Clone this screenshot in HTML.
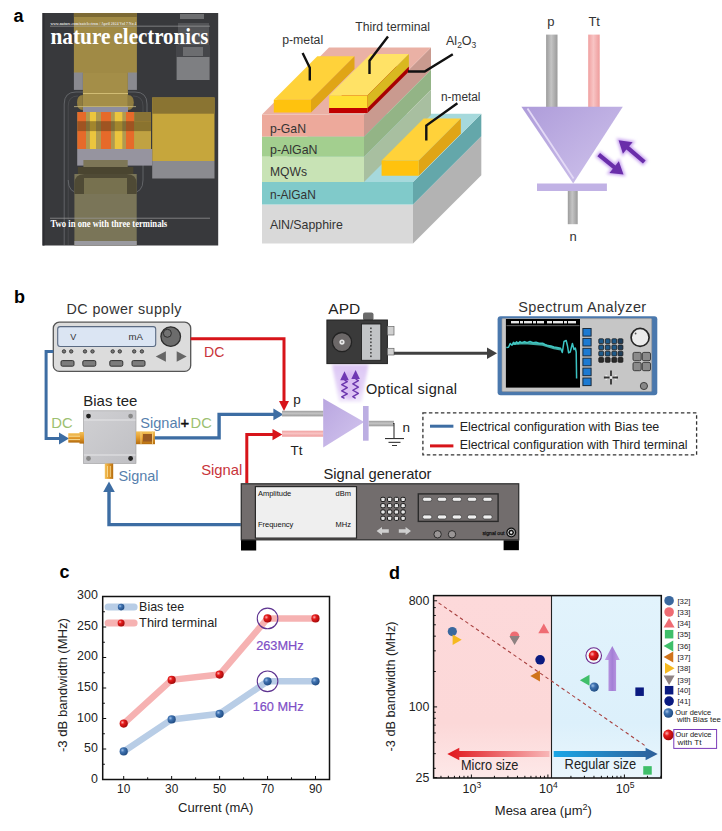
<!DOCTYPE html>
<html><head><meta charset="utf-8"><style>
html,body{margin:0;padding:0;background:#fff;width:722px;height:831px;overflow:hidden}
svg{display:block}
</style></head><body>
<svg width="722" height="831" viewBox="0 0 722 831">
<rect width="722" height="831" fill="#fff"/>
<text x="13.5" y="21.8" font-size="18" fill="#000" text-anchor="start" font-weight="bold" font-family='"Liberation Sans", sans-serif' >a</text>
<text x="14" y="303" font-size="18" fill="#000" text-anchor="start" font-weight="bold" font-family='"Liberation Sans", sans-serif' >b</text>
<text x="59.5" y="578" font-size="18" fill="#000" text-anchor="start" font-weight="bold" font-family='"Liberation Sans", sans-serif' >c</text>
<text x="389" y="578.6" font-size="18" fill="#000" text-anchor="start" font-weight="bold" font-family='"Liberation Sans", sans-serif' >d</text>
<g><rect x="42.5" y="13" width="175.7" height="232.5" fill="#38393c"/><rect x="42.5" y="13" width="2" height="232.5" fill="#2c2d31"/><rect x="180" y="14" width="24" height="5" fill="#6d6e70"/><rect x="178" y="23" width="31" height="22" fill="#535457"/><rect x="176" y="45" width="34" height="12" fill="#45464a"/><rect x="183" y="47" width="20" height="9" fill="#6c6d70"/><rect x="176.6" y="57" width="33" height="23" fill="#7e7f82"/><rect x="73.9" y="13" width="63" height="60" fill="#a08a45"/><rect x="73.9" y="13" width="63" height="4" fill="#7c6a35"/><rect x="82.9" y="73" width="45" height="39" fill="#a48e48"/><rect x="73.9" y="72.5" width="9" height="17.4" fill="#8a8a90"/><rect x="127.9" y="72.5" width="9" height="17.4" fill="#8a8a90"/><path d="M82.9,95 Q77,95 77,102.5 Q77,110 82.9,110 Z" fill="#8f7c40"/><path d="M127.9,95 Q133.8,95 133.8,102.5 Q133.8,110 127.9,110 Z" fill="#8f7c40"/><path d="M64.2,245 V104 Q64.2,92 76,92 H83 M127.9,92 H135 Q147,92 147,104 V150" fill="none" stroke="#6c6e72" stroke-width="0.8"/><path d="M68.2,245 V106 Q68.2,96 78,96 M133,96 Q143,96 143,106 V150" fill="none" stroke="#55575b" stroke-width="0.6"/><path d="M68.2,180 Q68.2,193 80,193 M143,165 V180 Q143,193 131,193" fill="none" stroke="#6c6e72" stroke-width="0.8"/><rect x="83" y="93" width="45" height="0.9" fill="#d6c27a"/><rect x="74" y="106.2" width="62" height="0.9" fill="#d0c28a" opacity="0.8"/><rect x="77.4" y="112" width="73.6" height="37" fill="#b09a50"/><rect x="83" y="107" width="45" height="5" fill="#8e8ea0"/><rect x="77.4" y="112" width="8.599999999999994" height="37" fill="#e66a2a"/><rect x="101" y="112" width="10" height="37" fill="#e66a2a"/><rect x="126" y="112" width="8.199999999999989" height="37" fill="#e66a2a"/><rect x="89.9" y="112" width="6.099999999999994" height="37" fill="#ebc53e"/><rect x="114.8" y="112" width="7.5" height="37" fill="#ebc53e"/><rect x="134.2" y="112" width="16.8" height="37" fill="#c0a242"/><rect x="77.4" y="121.2" width="73.6" height="9.9" fill="#4a3a18" opacity="0.45"/><rect x="134.2" y="112" width="16.8" height="9.2" fill="#8a7436"/><rect x="152.2" y="97.5" width="62.3" height="63.5" fill="#c6a63c"/><rect x="152.2" y="97.5" width="62.3" height="16.2" fill="#8a7432"/><rect x="77.2" y="149" width="75" height="16.6" fill="#96949f"/><rect x="152.2" y="161" width="62.3" height="17.5" fill="#8b8b90"/><rect x="74.4" y="174" width="62.3" height="71.5" fill="#7a7558"/><rect x="83.4" y="160" width="44.3" height="7" fill="#7d7657"/><rect x="77.9" y="167" width="55.4" height="7" fill="#4a4530"/><path d="M74.4,194 V184 Q74.4,174 84.4,174 H126.7 Q136.7,174 136.7,184 V194 Z" fill="#4f4a35"/><rect x="84" y="178" width="43" height="16" fill="#77714f"/><rect x="74.4" y="241" width="62.3" height="4.5" fill="#9a9aa0"/><text x="50.5" y="24.5" font-size="4.3" fill="#dddddd" text-anchor="start" font-weight="bold" font-family='"Liberation Serif", serif' textLength="86" lengthAdjust="spacingAndGlyphs" >www.nature.com/natelectron / April 2024 Vol 7 No 4</text><rect x="50" y="25.8" width="160" height="0.6" fill="#aaaaaa"/><text x="50.5" y="43.5" font-size="23.5" fill="#ffffff" text-anchor="start" font-weight="bold" font-family='"Liberation Serif", serif' textLength="60" lengthAdjust="spacingAndGlyphs" >nature</text><text x="113.6" y="43.5" font-size="23.5" fill="#ffffff" text-anchor="start" font-weight="bold" font-family='"Liberation Serif", serif' textLength="94.8" lengthAdjust="spacingAndGlyphs" >electronics</text><rect x="50" y="217.8" width="160" height="0.7" fill="#9a9a9a"/><text x="50.5" y="226.8" font-size="10.5" fill="#ffffff" text-anchor="start" font-weight="bold" font-family='"Liberation Serif", serif' textLength="116.7" lengthAdjust="spacingAndGlyphs" >Two in one with three terminals</text></g>
<g><polygon points="262.00,204.50 413.00,204.50 413.00,243.50 262.00,243.50" fill="#d9d9d9" /><polygon points="413.00,204.50 481.30,136.20 481.30,175.20 413.00,243.50" fill="#b3b3b3" /><polygon points="262.00,182.00 413.00,182.00 413.00,204.50 262.00,204.50" fill="#80caca" /><polygon points="413.00,182.00 481.30,113.70 481.30,136.20 413.00,204.50" fill="#64a7aa" /><polygon points="262.00,182.00 413.00,182.00 481.30,113.70 330.30,113.70" fill="#a6d9dc" /><polygon points="262.00,114.50 364.00,114.50 364.00,136.70 262.00,136.70" fill="#eda99b" /><polygon points="364.00,114.50 431.00,47.50 431.00,69.70 364.00,136.70" fill="#c99a8f" /><polygon points="262.00,136.70 364.00,136.70 364.00,156.80 262.00,156.80" fill="#a3cf8f" /><polygon points="364.00,136.70 431.00,69.70 431.00,89.80 364.00,156.80" fill="#93b486" /><polygon points="262.00,156.80 364.00,156.80 364.00,182.00 262.00,182.00" fill="#c8e3b5" /><polygon points="364.00,156.80 431.00,89.80 431.00,115.00 364.00,182.00" fill="#a8bfa0" /><polygon points="262.00,114.50 364.00,114.50 431.00,47.50 329.00,47.50" fill="#eab1a5" /><polygon points="273.80,99.80 311.00,99.80 354.50,56.30 317.30,56.30" fill="#ffd23a" /><polygon points="311.00,99.80 354.50,56.30 354.50,69.10 311.00,112.60" fill="#e0a516" /><polygon points="273.80,99.80 311.00,99.80 311.00,112.60 273.80,112.60" fill="#ffc20e" /><polygon points="329.10,108.00 367.40,108.00 408.90,66.50 370.60,66.50" fill="#c00000" /><polygon points="367.40,108.00 408.90,66.50 408.90,71.50 367.40,113.00" fill="#a80000" /><polygon points="329.10,108.00 367.40,108.00 367.40,113.00 329.10,113.00" fill="#c00000" /><polygon points="329.10,95.60 367.40,95.60 408.90,54.10 370.60,54.10" fill="#ffe266" /><polygon points="367.40,95.60 408.90,54.10 408.90,66.50 367.40,108.00" fill="#d9b820" /><polygon points="329.10,95.60 367.40,95.60 367.40,108.00 329.10,108.00" fill="#ffe033" /><polygon points="381.60,160.60 418.80,160.60 460.80,118.60 423.60,118.60" fill="#ffd23a" /><polygon points="418.80,160.60 460.80,118.60 460.80,133.80 418.80,175.80" fill="#e0a516" /><polygon points="381.60,160.60 418.80,160.60 418.80,175.80 381.60,175.80" fill="#ffc20e" /><polyline points="302.6,53 309.8,67.7 309.8,80.4" fill="none" stroke="#111" stroke-width="2.4"/><polyline points="388,36.6 369.5,60.7 369.5,74" fill="none" stroke="#111" stroke-width="2.4"/><polyline points="408,71.5 424.7,71.5 452.8,54.2" fill="none" stroke="#111" stroke-width="2.4"/><polyline points="457.4,103.2 426.3,125.5 426.3,140.5" fill="none" stroke="#111" stroke-width="2.4"/><text x="282.2" y="43.5" font-size="12.5" fill="#333" text-anchor="start" font-weight="normal" font-family='"Liberation Sans", sans-serif' textLength="41" lengthAdjust="spacingAndGlyphs" >p-metal</text><text x="355.3" y="30.7" font-size="12.5" fill="#333" text-anchor="start" font-weight="normal" font-family='"Liberation Sans", sans-serif' textLength="74.7" lengthAdjust="spacingAndGlyphs" >Third terminal</text><text x="446" y="45" font-size="12.5" fill="#333" font-family='"Liberation Sans", sans-serif'>Al<tspan font-size="8.5" dy="3">2</tspan><tspan dy="-3">O</tspan><tspan font-size="8.5" dy="3">3</tspan></text><text x="441" y="100.8" font-size="12.5" fill="#333" text-anchor="start" font-weight="normal" font-family='"Liberation Sans", sans-serif' textLength="39.5" lengthAdjust="spacingAndGlyphs" >n-metal</text><text x="270" y="132.9" font-size="13" fill="#333" text-anchor="start" font-weight="normal" font-family='"Liberation Sans", sans-serif' textLength="36" lengthAdjust="spacingAndGlyphs" >p-GaN</text><text x="270" y="153.7" font-size="13" fill="#333" text-anchor="start" font-weight="normal" font-family='"Liberation Sans", sans-serif' textLength="47.5" lengthAdjust="spacingAndGlyphs" >p-AlGaN</text><text x="270" y="175.5" font-size="13" fill="#333" text-anchor="start" font-weight="normal" font-family='"Liberation Sans", sans-serif' textLength="37" lengthAdjust="spacingAndGlyphs" >MQWs</text><text x="270" y="198.7" font-size="13" fill="#333" text-anchor="start" font-weight="normal" font-family='"Liberation Sans", sans-serif' textLength="45.8" lengthAdjust="spacingAndGlyphs" >n-AlGaN</text><text x="270" y="228.8" font-size="13" fill="#333" text-anchor="start" font-weight="normal" font-family='"Liberation Sans", sans-serif' textLength="72.8" lengthAdjust="spacingAndGlyphs" >AlN/Sapphire</text></g>
<g><defs><linearGradient id="gtri" x1="0" y1="0" x2="1" y2="1"><stop offset="0" stop-color="#ae9cda"/><stop offset="1" stop-color="#d0c4ec"/></linearGradient><linearGradient id="gpinG" x1="0" y1="0" x2="1" y2="0"><stop offset="0" stop-color="#9c9c9c"/><stop offset="0.45" stop-color="#c4c4c4"/><stop offset="1" stop-color="#9a9a9a"/></linearGradient><linearGradient id="gpinP" x1="0" y1="0" x2="1" y2="0"><stop offset="0" stop-color="#f0a0a0"/><stop offset="0.45" stop-color="#f8c4c4"/><stop offset="1" stop-color="#ee9c9c"/></linearGradient><linearGradient id="gpinGh" x1="0" y1="0" x2="0" y2="1"><stop offset="0" stop-color="#9c9c9c"/><stop offset="0.45" stop-color="#c4c4c4"/><stop offset="1" stop-color="#9a9a9a"/></linearGradient><linearGradient id="gpinPh" x1="0" y1="0" x2="0" y2="1"><stop offset="0" stop-color="#f0a0a0"/><stop offset="0.45" stop-color="#f8c4c4"/><stop offset="1" stop-color="#ee9c9c"/></linearGradient><filter id="glow" x="-50%" y="-50%" width="200%" height="200%"><feGaussianBlur stdDeviation="1.6"/></filter></defs><rect x="546.1" y="34.6" width="11.4" height="73" fill="url(#gpinG)"/><rect x="588.2" y="34.6" width="11.5" height="73" fill="url(#gpinP)"/><rect x="567.8" y="190" width="9.9" height="34.2" fill="url(#gpinG)"/><polygon points="521.4,106.8 622.8,106.8 573.2,183.5" fill="url(#gtri)"/><polyline points="527.5,108.5 573.6,178.5" fill="none" stroke="#e4daf6" stroke-width="1.8"/><rect x="537" y="183.5" width="69.9" height="7.5" fill="#c1b2e5"/><polygon points="597.39,156.34 612.83,168.73 609.45,172.94 623.50,174.60 618.83,161.24 615.45,165.45 600.01,153.06" fill="#c9a6f0" stroke="#c9a6f0" stroke-width="3" filter="url(#glow)"/><polygon points="597.39,156.34 612.83,168.73 609.45,172.94 623.50,174.60 618.83,161.24 615.45,165.45 600.01,153.06" fill="#6a2eaa"/><polygon points="645.66,160.40 629.11,146.36 632.60,142.24 618.60,140.20 622.90,153.68 626.39,149.56 642.94,163.60" fill="#c9a6f0" stroke="#c9a6f0" stroke-width="3" filter="url(#glow)"/><polygon points="645.66,160.40 629.11,146.36 632.60,142.24 618.60,140.20 622.90,153.68 626.39,149.56 642.94,163.60" fill="#6a2eaa"/><text x="550.8" y="26" font-size="13" fill="#333" text-anchor="middle" font-weight="normal" font-family='"Liberation Sans", sans-serif' >p</text><text x="594.2" y="26" font-size="13" fill="#333" text-anchor="middle" font-weight="normal" font-family='"Liberation Sans", sans-serif' >Tt</text><text x="573.2" y="241" font-size="13" fill="#333" text-anchor="middle" font-weight="normal" font-family='"Liberation Sans", sans-serif' >n</text></g>
<g><text x="66.6" y="314.4" font-size="14.3" fill="#333" text-anchor="start" font-weight="normal" font-family='"Liberation Sans", sans-serif' textLength="114.8" lengthAdjust="spacing" >DC power supply</text><rect x="53.3" y="322.2" width="137.4" height="49.2" rx="6" fill="#dcdcdc" stroke="#555" stroke-width="1.3"/><rect x="57.7" y="326.6" width="98" height="19.9" rx="2.5" fill="#dbe5f3" stroke="#5a6a82" stroke-width="1.1"/><text x="73.3" y="339.6" font-size="9" fill="#333" text-anchor="middle" font-weight="normal" font-family='"Liberation Sans", sans-serif' >V</text><text x="128.6" y="339.6" font-size="9" fill="#333" text-anchor="start" font-weight="normal" font-family='"Liberation Sans", sans-serif' textLength="14.4" lengthAdjust="spacingAndGlyphs" >mA</text><circle cx="170.7" cy="336.6" r="9.8" fill="#6c6c6c" stroke="#2e2e2e" stroke-width="1.3"/><circle cx="167.4" cy="333.3" r="4" fill="#727272" stroke="#2e2e2e" stroke-width="1"/><circle cx="64" cy="351.4" r="1.7" fill="#777" stroke="#333" stroke-width="0.9"/><circle cx="71.2" cy="351.4" r="1.7" fill="#777" stroke="#333" stroke-width="0.9"/><circle cx="85" cy="351.4" r="1.7" fill="#777" stroke="#333" stroke-width="0.9"/><circle cx="92.5" cy="351.4" r="1.7" fill="#777" stroke="#333" stroke-width="0.9"/><circle cx="112.7" cy="351.4" r="1.7" fill="#777" stroke="#333" stroke-width="0.9"/><circle cx="119.8" cy="351.4" r="1.7" fill="#777" stroke="#333" stroke-width="0.9"/><circle cx="134.2" cy="351.4" r="1.7" fill="#777" stroke="#333" stroke-width="0.9"/><circle cx="141.9" cy="351.4" r="1.7" fill="#777" stroke="#333" stroke-width="0.9"/><rect x="61" y="360.6" width="13" height="5.6" rx="1.4" fill="#7c7c7c" stroke="#333" stroke-width="1"/><rect x="82.8" y="360.6" width="13" height="5.6" rx="1.4" fill="#7c7c7c" stroke="#333" stroke-width="1"/><rect x="109.8" y="360.6" width="13" height="5.6" rx="1.4" fill="#7c7c7c" stroke="#333" stroke-width="1"/><rect x="132" y="360.6" width="13" height="5.6" rx="1.4" fill="#7c7c7c" stroke="#333" stroke-width="1"/><polygon points="155.7,356.5 165.9,351.3 165.9,361.7" fill="#666"/><polygon points="186.7,356.5 176.7,351.3 176.7,361.7" fill="#666"/><polyline points="190.6,338.7 284,338.7 284,402" fill="none" stroke="#d7141a" stroke-width="3"/><polygon points="279,401 289,401 284,411" fill="#d7141a"/><text x="204" y="357.3" font-size="14.5" fill="#c8343a" text-anchor="start" font-weight="normal" font-family='"Liberation Sans", sans-serif' textLength="20.3" lengthAdjust="spacingAndGlyphs" >DC</text><polyline points="53.3,351.5 46.1,351.5 46.1,438.6 60,438.6" fill="none" stroke="#3d6da3" stroke-width="3"/><polygon points="59,432.6 69,438.6 59,444.6" fill="#3d6da3"/><text x="51.3" y="427.8" font-size="14.8" fill="#9cc070" text-anchor="start" font-weight="normal" font-family='"Liberation Sans", sans-serif' textLength="21.4" lengthAdjust="spacingAndGlyphs" >DC</text><text x="83.3" y="405.7" font-size="14.5" fill="#222" text-anchor="start" font-weight="normal" font-family='"Liberation Sans", sans-serif' textLength="54" lengthAdjust="spacingAndGlyphs" >Bias tee</text><defs><linearGradient id="gbt" x1="0" y1="0" x2="1" y2="1"><stop offset="0" stop-color="#d0d0d3"/><stop offset="1" stop-color="#c0c0c4"/></linearGradient><linearGradient id="ggold" x1="0" y1="0" x2="0" y2="1"><stop offset="0" stop-color="#f2c15a"/><stop offset="0.5" stop-color="#e39a2a"/><stop offset="1" stop-color="#b36c10"/></linearGradient><linearGradient id="ggoldh" x1="0" y1="0" x2="1" y2="0"><stop offset="0" stop-color="#f2c15a"/><stop offset="0.5" stop-color="#e39a2a"/><stop offset="1" stop-color="#b36c10"/></linearGradient></defs><rect x="83.5" y="410.8" width="52.5" height="52.7" fill="url(#gbt)" stroke="#9a9a9c" stroke-width="0.6"/><rect x="84" y="419.5" width="51.5" height="1" fill="#e6e6e8"/><rect x="84" y="454.5" width="51.5" height="1" fill="#e6e6e8"/><circle cx="88.5" cy="416.1" r="2.4" fill="#222"/><circle cx="130.6" cy="416.1" r="2.4" fill="#888"/><circle cx="88.5" cy="458.5" r="2.4" fill="#888"/><circle cx="130.6" cy="458.5" r="2.4" fill="#222"/><rect x="68.3" y="433.2" width="12" height="9.4" fill="url(#ggold)"/><rect x="79.5" y="432" width="4.5" height="11.6" fill="url(#ggold)"/><path d="M68.3,436.2 H80 M68.3,439.6 H80" stroke="#fbe3a0" stroke-width="0.9"/><rect x="136" y="431.4" width="19" height="12.8" fill="url(#ggold)"/><rect x="143" y="434" width="9" height="7.6" fill="#9a5a22"/><path d="M141,431.4 V444.2 M152.5,431.4 V444.2" stroke="#f6d080" stroke-width="0.9"/><rect x="104.8" y="463.5" width="8.4" height="15.4" fill="url(#ggoldh)"/><path d="M107.5,466 V477 M110.3,466 V477" stroke="#fbe3a0" stroke-width="0.8"/><polyline points="154.7,437.9 219.1,437.9 219.1,414.4 274,414.4" fill="none" stroke="#3d6da3" stroke-width="3.4"/><polygon points="273.4,408.6 283.3,414.4 273.4,420.2" fill="#3d6da3"/><text x="140.3" y="427.8" font-size="14.8" fill="#5680ad" text-anchor="start" font-weight="normal" font-family='"Liberation Sans", sans-serif' textLength="40.5" lengthAdjust="spacingAndGlyphs" >Signal</text><text x="180.6" y="427.8" font-size="14.8" fill="#111" text-anchor="start" font-weight="normal" font-family='"Liberation Sans", sans-serif' stroke="#111" stroke-width="0.5">+</text><text x="190.6" y="427.8" font-size="14.8" fill="#9cc070" text-anchor="start" font-weight="normal" font-family='"Liberation Sans", sans-serif' textLength="21.2" lengthAdjust="spacingAndGlyphs" >DC</text><text x="118.4" y="480.6" font-size="14.8" fill="#5680ad" text-anchor="start" font-weight="normal" font-family='"Liberation Sans", sans-serif' textLength="40.2" lengthAdjust="spacingAndGlyphs" >Signal</text><polyline points="240.8,524.6 109,524.6 109,491" fill="none" stroke="#3d6da3" stroke-width="3.4"/><polygon points="103.2,492 114.8,492 109,481.6" fill="#3d6da3"/><polyline points="246.8,483 246.8,434.6 273,434.6" fill="none" stroke="#d7141a" stroke-width="3"/><polygon points="272.5,429 282.3,434.6 272.5,440.2" fill="#d7141a"/><text x="201.2" y="474.5" font-size="14.8" fill="#c8343a" text-anchor="start" font-weight="normal" font-family='"Liberation Sans", sans-serif' textLength="41.2" lengthAdjust="spacingAndGlyphs" >Signal</text><text x="328.3" y="314.4" font-size="14" fill="#222" text-anchor="start" font-weight="normal" font-family='"Liberation Sans", sans-serif' textLength="31.9" lengthAdjust="spacingAndGlyphs" >APD</text><defs><linearGradient id="gbeam" x1="0" y1="0" x2="0" y2="1"><stop offset="0" stop-color="#dcc6f4"/><stop offset="0.6" stop-color="#e6d6f8"/><stop offset="1" stop-color="#f1e8fb"/></linearGradient><filter id="bsoft" x="-30%" y="-30%" width="160%" height="160%"><feGaussianBlur stdDeviation="1.8"/></filter></defs><polygon points="332,364.5 368.6,364.5 361.6,402 339,402" fill="url(#gbeam)" filter="url(#bsoft)"/><ellipse cx="350" cy="385" rx="10" ry="14" fill="#d2acf0" opacity="0.55" filter="url(#bsoft)"/><rect x="363" y="312.6" width="10.5" height="8" rx="2" fill="#6a6a6a"/><rect x="326.9" y="320" width="60.5" height="43.6" fill="#3a3a3a" stroke="#222" stroke-width="1"/><circle cx="342" cy="342.1" r="9.6" fill="#6c6868" stroke="#222" stroke-width="1.3"/><circle cx="342" cy="342.1" r="2.6" fill="#e8e8e8"/><circle cx="342" cy="342.1" r="1" fill="#888"/><rect x="361.5" y="324" width="19.3" height="36.3" fill="#c2c4c6" stroke="#222" stroke-width="0.9"/><rect x="370.2" y="327.5" width="1.4" height="1.6" fill="#333"/><rect x="370.2" y="331.0" width="1.4" height="1.6" fill="#333"/><rect x="370.2" y="334.5" width="1.4" height="1.6" fill="#333"/><rect x="370.2" y="338.0" width="1.4" height="1.6" fill="#333"/><rect x="370.2" y="341.5" width="1.4" height="1.6" fill="#333"/><rect x="370.2" y="345.0" width="1.4" height="1.6" fill="#333"/><rect x="370.2" y="348.5" width="1.4" height="1.6" fill="#333"/><rect x="370.2" y="352.0" width="1.4" height="1.6" fill="#333"/><rect x="370.2" y="355.5" width="1.4" height="1.6" fill="#333"/><rect x="387.4" y="326.6" width="6.6" height="8.4" fill="#d0d0d0" stroke="#666" stroke-width="0.7"/><rect x="387.4" y="348.3" width="6.6" height="6.7" fill="#d0d0d0" stroke="#666" stroke-width="0.7"/><polyline points="394,353.2 489,353.2" fill="none" stroke="#404040" stroke-width="3"/><polygon points="487,347.5 497.1,353.2 487,358.9" fill="#404040"/><polyline points="344.50,398.30 341.70,396.79 347.30,393.77 341.70,390.76 347.30,387.74 341.70,384.73 347.30,381.71 344.50,380.20" fill="none" stroke="#6b36ad" stroke-width="1.4" stroke-linejoin="round"/><polygon points="340.2,380.2 348.8,380.2 344.5,371.2" fill="#6f38b3"/><polyline points="355.60,398.30 352.80,396.69 358.40,393.48 352.80,390.26 358.40,387.04 352.80,383.82 358.40,380.61 355.60,379.00" fill="none" stroke="#6b36ad" stroke-width="1.4" stroke-linejoin="round"/><polygon points="351.3,379 359.90000000000003,379 355.6,370" fill="#6f38b3"/><text x="366" y="393.6" font-size="14.5" fill="#222" text-anchor="start" font-weight="normal" font-family='"Liberation Sans", sans-serif' textLength="91" lengthAdjust="spacing" >Optical signal</text><defs><linearGradient id="gtri2" x1="0" y1="0" x2="1" y2="1"><stop offset="0" stop-color="#b9a6e0"/><stop offset="1" stop-color="#d3c6ee"/></linearGradient></defs><rect x="282" y="410.8" width="41.5" height="5.6" fill="url(#gpinGh)"/><rect x="282" y="430.7" width="41.5" height="6" fill="url(#gpinPh)"/><rect x="368.6" y="420.8" width="25.4" height="5.5" fill="url(#gpinGh)"/><polygon points="323.2,398.6 323.2,447.4 364.2,421.9" fill="url(#gtri2)"/><rect x="363" y="406" width="5.6" height="34.7" fill="#bcaee2"/><polyline points="393,423.5 394,423.5 394,438.5" fill="none" stroke="#333" stroke-width="1.1"/><rect x="385" y="438" width="19" height="1.1" fill="#333"/><rect x="388.5" y="441.8" width="12" height="1.1" fill="#333"/><rect x="392" y="445" width="5" height="1" fill="#333"/><text x="297" y="404" font-size="13.5" fill="#222" text-anchor="middle" font-weight="normal" font-family='"Liberation Sans", sans-serif' >p</text><text x="296.5" y="455" font-size="13.5" fill="#222" text-anchor="middle" font-weight="normal" font-family='"Liberation Sans", sans-serif' >Tt</text><text x="406.2" y="432" font-size="13.5" fill="#222" text-anchor="middle" font-weight="normal" font-family='"Liberation Sans", sans-serif' >n</text><rect x="422.9" y="412.9" width="273.7" height="42" fill="none" stroke="#333" stroke-width="1.3" stroke-dasharray="3.5,2.5"/><rect x="430" y="424.7" width="23.4" height="3" fill="#3d6da3"/><rect x="430" y="444.4" width="23.4" height="3" fill="#d7141a"/><text x="459.7" y="430.5" font-size="13" fill="#222" text-anchor="start" font-weight="normal" font-family='"Liberation Sans", sans-serif' textLength="199.6" lengthAdjust="spacingAndGlyphs" >Electrical configuration with Bias tee</text><text x="459.7" y="449" font-size="13" fill="#222" text-anchor="start" font-weight="normal" font-family='"Liberation Sans", sans-serif' textLength="227.8" lengthAdjust="spacingAndGlyphs" >Electrical configuration with Third terminal</text><text x="518.2" y="312.4" font-size="14.5" fill="#333" text-anchor="start" font-weight="normal" font-family='"Liberation Sans", sans-serif' textLength="128" lengthAdjust="spacing" >Spectrum Analyzer</text><rect x="497.6" y="316.2" width="159.7" height="79" rx="3" fill="#4a78ad"/><rect x="502" y="318.6" width="149.7" height="73" rx="1" fill="#c6c6c6" stroke="#9a9a9a" stroke-width="0.6"/><rect x="505.9" y="319" width="74.1" height="68.6" fill="#000"/><rect x="506.5" y="325.4" width="73" height="0.7" fill="#888"/><rect x="511" y="321" width="8" height="2.4" fill="#e8e8e8"/><rect x="520" y="321" width="3" height="2.4" fill="#e8e8e8"/><rect x="524" y="321" width="8" height="2.4" fill="#e8e8e8"/><rect x="533" y="321" width="3" height="2.4" fill="#e8e8e8"/><rect x="537" y="321" width="7" height="2.4" fill="#e8e8e8"/><rect x="547" y="321" width="5" height="2.4" fill="#e8e8e8"/><rect x="553" y="321" width="10" height="2.4" fill="#e8e8e8"/><rect x="564" y="321" width="3" height="2.4" fill="#e8e8e8"/><rect x="568" y="321" width="8" height="2.4" fill="#e8e8e8"/><polyline points="506.3,347.6 508.5,347.2 510.2,343.5 512,345.2 513.5,342.3 515,344.2 516.5,341.8 518,343.6 520,341.6 522,342.8 524.6,341.6 527,342.6 530,341.5 533,342.8 536,342.2 539,343.2 542.6,343.2 545,344.5 548,345.6 551,346 554,347 557,347.6 560.6,348.3 562.3,352.5 564,341.5 566.2,340.5 567.5,346 568.6,352.8 570.2,352 572.4,343.5 574,349.5 575.3,348 576.2,352 576.6,378.6" fill="none" stroke="#3cc4c4" stroke-width="1.5" stroke-linejoin="round"/><polyline points="513,343.8 524.6,343 542.6,344.6 554,348.2 560.6,349.4" fill="none" stroke="#46c8c0" stroke-width="2.4" opacity="0.85"/><rect x="582.9" y="328.5" width="8.2" height="7.6" fill="#1c7ad2" stroke="#1b2b3b" stroke-width="1"/><rect x="582.9" y="338.4" width="8.2" height="7.6" fill="#1c7ad2" stroke="#1b2b3b" stroke-width="1"/><rect x="582.9" y="348.3" width="8.2" height="7.6" fill="#1c7ad2" stroke="#1b2b3b" stroke-width="1"/><rect x="582.9" y="358.2" width="8.2" height="7.6" fill="#1c7ad2" stroke="#1b2b3b" stroke-width="1"/><rect x="582.9" y="368.1" width="8.2" height="7.6" fill="#1c7ad2" stroke="#1b2b3b" stroke-width="1"/><rect x="582.9" y="378.0" width="8.2" height="7.6" fill="#1c7ad2" stroke="#1b2b3b" stroke-width="1"/><rect x="598.8000000000001" y="338.8" width="4.8" height="4.8" rx="0.9" fill="#1e5a8a" stroke="#1a1a1a" stroke-width="0.8"/><rect x="605.3000000000001" y="338.8" width="4.8" height="4.8" rx="0.9" fill="#1e5a8a" stroke="#1a1a1a" stroke-width="0.8"/><rect x="611.9" y="338.8" width="4.8" height="4.8" rx="0.9" fill="#1e5a8a" stroke="#1a1a1a" stroke-width="0.8"/><rect x="618.1" y="338.8" width="4.8" height="4.8" rx="0.9" fill="#1f3e5a" stroke="#1a1a1a" stroke-width="0.8"/><rect x="598.8000000000001" y="345.0" width="4.8" height="4.8" rx="0.9" fill="#1e5a8a" stroke="#1a1a1a" stroke-width="0.8"/><rect x="605.3000000000001" y="345.0" width="4.8" height="4.8" rx="0.9" fill="#1e5a8a" stroke="#1a1a1a" stroke-width="0.8"/><rect x="611.9" y="345.0" width="4.8" height="4.8" rx="0.9" fill="#1e5a8a" stroke="#1a1a1a" stroke-width="0.8"/><rect x="618.1" y="345.0" width="4.8" height="4.8" rx="0.9" fill="#1f3e5a" stroke="#1a1a1a" stroke-width="0.8"/><rect x="598.8000000000001" y="351.20000000000005" width="4.8" height="4.8" rx="0.9" fill="#1e5a8a" stroke="#1a1a1a" stroke-width="0.8"/><rect x="605.3000000000001" y="351.20000000000005" width="4.8" height="4.8" rx="0.9" fill="#1e5a8a" stroke="#1a1a1a" stroke-width="0.8"/><rect x="611.9" y="351.20000000000005" width="4.8" height="4.8" rx="0.9" fill="#1e5a8a" stroke="#1a1a1a" stroke-width="0.8"/><rect x="618.1" y="351.20000000000005" width="4.8" height="4.8" rx="0.9" fill="#1f3e5a" stroke="#1a1a1a" stroke-width="0.8"/><rect x="598.8000000000001" y="357.5" width="4.8" height="4.8" rx="0.9" fill="#2a2a2a" stroke="#1a1a1a" stroke-width="0.8"/><rect x="605.3000000000001" y="357.5" width="4.8" height="4.8" rx="0.9" fill="#2a2a2a" stroke="#1a1a1a" stroke-width="0.8"/><rect x="611.9" y="357.5" width="4.8" height="4.8" rx="0.9" fill="#2a2a2a" stroke="#1a1a1a" stroke-width="0.8"/><rect x="618.1" y="357.5" width="4.8" height="4.8" rx="0.9" fill="#2a2a2a" stroke="#1a1a1a" stroke-width="0.8"/><path d="M605.5,375.5 L608.5,377.5 L605.5,379.5 M616.5,375.5 L613.5,377.5 L616.5,379.5" stroke="#f4f4f4" stroke-width="1.6" fill="none"/><path d="M611,370.6 V384.4 M603.9,377.5 H618" stroke="#333" stroke-width="1.8"/><rect x="609.6" y="376.1" width="2.8" height="2.8" fill="#e8e8e8"/><circle cx="640.1" cy="337.4" r="9" fill="#ececec" stroke="#262626" stroke-width="1.7"/><circle cx="635.6" cy="333.5" r="0.9" fill="#555"/><rect x="633" y="352.4" width="8.2" height="8.3" rx="1.5" fill="#8a8a8a" stroke="#333" stroke-width="0.9"/><rect x="642.3" y="352.4" width="8.2" height="8.3" rx="1.5" fill="#8a8a8a" stroke="#333" stroke-width="0.9"/><rect x="633" y="362.4" width="8.2" height="8.3" rx="1.5" fill="#8a8a8a" stroke="#333" stroke-width="0.9"/><rect x="642.3" y="362.4" width="8.2" height="8.3" rx="1.5" fill="#8a8a8a" stroke="#333" stroke-width="0.9"/><circle cx="643.9" cy="386" r="3.6" fill="#888" stroke="#333" stroke-width="0.9"/><text x="323.5" y="478.7" font-size="15" fill="#222" text-anchor="start" font-weight="normal" font-family='"Liberation Sans", sans-serif' textLength="108" lengthAdjust="spacingAndGlyphs" >Signal generator</text><rect x="241" y="540" width="15.2" height="10.5" fill="#000"/><rect x="503.6" y="540.2" width="15.3" height="10" fill="#000"/><rect x="241.3" y="483.8" width="277.4" height="56" fill="#726d6d" stroke="#333" stroke-width="1.3"/><rect x="255.4" y="486.6" width="101.1" height="51.5" fill="#efefef" stroke="#2a2a2a" stroke-width="1.2"/><text x="257.9" y="495.5" font-size="7.5" fill="#111" text-anchor="start" font-weight="normal" font-family='"Liberation Sans", sans-serif' >Amplitude</text><text x="351" y="495.5" font-size="7.5" fill="#111" text-anchor="end" font-weight="normal" font-family='"Liberation Sans", sans-serif' >dBm</text><text x="257.9" y="526.5" font-size="7.5" fill="#111" text-anchor="start" font-weight="normal" font-family='"Liberation Sans", sans-serif' >Frequency</text><text x="351" y="526.5" font-size="7.5" fill="#111" text-anchor="end" font-weight="normal" font-family='"Liberation Sans", sans-serif' >MHz</text><rect x="380.8" y="497.3" width="4.4" height="4.2" rx="1.3" fill="#e6e6e6" stroke="#151515" stroke-width="1"/><rect x="387.5" y="497.3" width="4.4" height="4.2" rx="1.3" fill="#e6e6e6" stroke="#151515" stroke-width="1"/><rect x="394.2" y="497.3" width="4.4" height="4.2" rx="1.3" fill="#e6e6e6" stroke="#151515" stroke-width="1"/><rect x="400.9" y="497.3" width="4.4" height="4.2" rx="1.3" fill="#e6e6e6" stroke="#151515" stroke-width="1"/><rect x="380.8" y="503.6" width="4.4" height="4.2" rx="1.3" fill="#e6e6e6" stroke="#151515" stroke-width="1"/><rect x="387.5" y="503.6" width="4.4" height="4.2" rx="1.3" fill="#e6e6e6" stroke="#151515" stroke-width="1"/><rect x="394.2" y="503.6" width="4.4" height="4.2" rx="1.3" fill="#e6e6e6" stroke="#151515" stroke-width="1"/><rect x="400.9" y="503.6" width="4.4" height="4.2" rx="1.3" fill="#e6e6e6" stroke="#151515" stroke-width="1"/><rect x="380.8" y="509.9" width="4.4" height="4.2" rx="1.3" fill="#e6e6e6" stroke="#151515" stroke-width="1"/><rect x="387.5" y="509.9" width="4.4" height="4.2" rx="1.3" fill="#e6e6e6" stroke="#151515" stroke-width="1"/><rect x="394.2" y="509.9" width="4.4" height="4.2" rx="1.3" fill="#e6e6e6" stroke="#151515" stroke-width="1"/><rect x="400.9" y="509.9" width="4.4" height="4.2" rx="1.3" fill="#e6e6e6" stroke="#151515" stroke-width="1"/><rect x="380.8" y="516.2" width="4.4" height="4.2" rx="1.3" fill="#e6e6e6" stroke="#151515" stroke-width="1"/><rect x="387.5" y="516.2" width="4.4" height="4.2" rx="1.3" fill="#e6e6e6" stroke="#151515" stroke-width="1"/><rect x="394.2" y="516.2" width="4.4" height="4.2" rx="1.3" fill="#e6e6e6" stroke="#151515" stroke-width="1"/><rect x="400.9" y="516.2" width="4.4" height="4.2" rx="1.3" fill="#e6e6e6" stroke="#151515" stroke-width="1"/><rect x="418.3" y="493.9" width="79.8" height="27.5" fill="none" stroke="#2a2a2a" stroke-width="1.4"/><rect x="422.59999999999997" y="497.3" width="9.2" height="4" rx="1.8" fill="#f0f0f0" stroke="#3a3a3a" stroke-width="0.7"/><rect x="422.59999999999997" y="515" width="9.2" height="4" rx="1.8" fill="#f0f0f0" stroke="#3a3a3a" stroke-width="0.7"/><rect x="437.4" y="497.3" width="9.2" height="4" rx="1.8" fill="#f0f0f0" stroke="#3a3a3a" stroke-width="0.7"/><rect x="437.4" y="515" width="9.2" height="4" rx="1.8" fill="#f0f0f0" stroke="#3a3a3a" stroke-width="0.7"/><rect x="452.29999999999995" y="497.3" width="9.2" height="4" rx="1.8" fill="#f0f0f0" stroke="#3a3a3a" stroke-width="0.7"/><rect x="452.29999999999995" y="515" width="9.2" height="4" rx="1.8" fill="#f0f0f0" stroke="#3a3a3a" stroke-width="0.7"/><rect x="467.4" y="497.3" width="9.2" height="4" rx="1.8" fill="#f0f0f0" stroke="#3a3a3a" stroke-width="0.7"/><rect x="467.4" y="515" width="9.2" height="4" rx="1.8" fill="#f0f0f0" stroke="#3a3a3a" stroke-width="0.7"/><rect x="482.9" y="497.3" width="9.2" height="4" rx="1.8" fill="#f0f0f0" stroke="#3a3a3a" stroke-width="0.7"/><rect x="482.9" y="515" width="9.2" height="4" rx="1.8" fill="#f0f0f0" stroke="#3a3a3a" stroke-width="0.7"/><polygon points="376.6,531 382,527 382,529.3 388.8,529.3 388.8,532.7 382,532.7 382,535" fill="#cfcfcf"/><polygon points="411,531 405.6,527 405.6,529.3 398.8,529.3 398.8,532.7 405.6,532.7 405.6,535" fill="#cfcfcf"/><circle cx="437.6" cy="534.3" r="3.7" fill="#9a9696" stroke="#222" stroke-width="0.9"/><circle cx="452" cy="534.3" r="3.7" fill="#9a9696" stroke="#222" stroke-width="0.9"/><text x="482.5" y="535" font-size="5.8" fill="#111" text-anchor="start" font-weight="normal" font-family='"Liberation Sans", sans-serif' textLength="22" lengthAdjust="spacingAndGlyphs" stroke="#111" stroke-width="0.25">signal out</text><circle cx="511.2" cy="532.5" r="5" fill="#111"/><circle cx="511.2" cy="532.5" r="3.3" fill="none" stroke="#eee" stroke-width="0.8"/><circle cx="511.2" cy="532.5" r="1.2" fill="#eee"/></g>
<g><defs><radialGradient id="sphB" cx="0.35" cy="0.35" r="0.7"><stop offset="0" stop-color="#9fc0e8"/><stop offset="0.35" stop-color="#3f72b0"/><stop offset="1" stop-color="#1f4a80"/></radialGradient><radialGradient id="sphR" cx="0.35" cy="0.35" r="0.7"><stop offset="0" stop-color="#ffb0b0"/><stop offset="0.35" stop-color="#e41b1b"/><stop offset="1" stop-color="#a00808"/></radialGradient></defs><polyline points="123.70,723.62 171.65,679.89 219.60,674.58 267.55,618.46 315.50,618.46" fill="none" stroke="#f6b2b2" stroke-width="6.5" stroke-linejoin="round"/><polyline points="123.70,751.44 171.65,719.41 219.60,713.80 267.55,681.29 315.50,681.29" fill="none" stroke="#b8cde6" stroke-width="6.5" stroke-linejoin="round"/><circle cx="123.70" cy="723.62" r="4.1" fill="url(#sphR)"/><circle cx="171.65" cy="679.89" r="4.1" fill="url(#sphR)"/><circle cx="219.60" cy="674.58" r="4.1" fill="url(#sphR)"/><circle cx="267.55" cy="618.46" r="4.1" fill="url(#sphR)"/><circle cx="315.50" cy="618.46" r="4.1" fill="url(#sphR)"/><circle cx="123.70" cy="751.44" r="4.1" fill="url(#sphB)"/><circle cx="171.65" cy="719.41" r="4.1" fill="url(#sphB)"/><circle cx="219.60" cy="713.80" r="4.1" fill="url(#sphB)"/><circle cx="267.55" cy="681.29" r="4.1" fill="url(#sphB)"/><circle cx="315.50" cy="681.29" r="4.1" fill="url(#sphB)"/><circle cx="267.55" cy="618.46" r="10.3" fill="none" stroke="#5e3390" stroke-width="1.1"/><circle cx="267.55" cy="681.29" r="10.3" fill="none" stroke="#5e3390" stroke-width="1.1"/><text x="256.2" y="649.6" font-size="13" fill="#7e4ec6" text-anchor="start" font-weight="normal" font-family='"Liberation Sans", sans-serif' textLength="47.5" lengthAdjust="spacingAndGlyphs" stroke="#7e4ec6" stroke-width="0.2">263MHz</text><text x="252.7" y="710.5" font-size="13" fill="#7e4ec6" text-anchor="start" font-weight="normal" font-family='"Liberation Sans", sans-serif' textLength="51" lengthAdjust="spacingAndGlyphs" stroke="#7e4ec6" stroke-width="0.2">160 MHz</text><rect x="104.6" y="603.6" width="33" height="7" rx="3.5" fill="#b8cde6"/><rect x="104.6" y="619.5" width="33" height="7" rx="3.5" fill="#f6b2b2"/><circle cx="121.1" cy="607.1" r="3.3" fill="url(#sphB)"/><circle cx="121.1" cy="623" r="3.5" fill="url(#sphR)"/><text x="139.1" y="611.4" font-size="13" fill="#222" text-anchor="start" font-weight="normal" font-family='"Liberation Sans", sans-serif' textLength="45" lengthAdjust="spacingAndGlyphs" >Bias tee</text><text x="139.1" y="626.5" font-size="13" fill="#222" text-anchor="start" font-weight="normal" font-family='"Liberation Sans", sans-serif' textLength="78" lengthAdjust="spacingAndGlyphs" >Third terminal</text><rect x="102.7" y="596.5" width="226.8" height="183.0" fill="none" stroke="#111" stroke-width="1.5"/><text x="97.8" y="782.6" font-size="13" fill="#222" text-anchor="end" font-weight="normal" font-family='"Liberation Sans", sans-serif' textLength="6.9" lengthAdjust="spacingAndGlyphs" >0</text><text x="97.8" y="752.0500000000001" font-size="13" fill="#222" text-anchor="end" font-weight="normal" font-family='"Liberation Sans", sans-serif' textLength="13.8" lengthAdjust="spacingAndGlyphs" >50</text><text x="97.8" y="721.5" font-size="13" fill="#222" text-anchor="end" font-weight="normal" font-family='"Liberation Sans", sans-serif' textLength="20.700000000000003" lengthAdjust="spacingAndGlyphs" >100</text><text x="97.8" y="690.95" font-size="13" fill="#222" text-anchor="end" font-weight="normal" font-family='"Liberation Sans", sans-serif' textLength="20.700000000000003" lengthAdjust="spacingAndGlyphs" >150</text><text x="97.8" y="660.4" font-size="13" fill="#222" text-anchor="end" font-weight="normal" font-family='"Liberation Sans", sans-serif' textLength="20.700000000000003" lengthAdjust="spacingAndGlyphs" >200</text><text x="97.8" y="629.85" font-size="13" fill="#222" text-anchor="end" font-weight="normal" font-family='"Liberation Sans", sans-serif' textLength="20.700000000000003" lengthAdjust="spacingAndGlyphs" >250</text><text x="97.8" y="599.3000000000001" font-size="13" fill="#222" text-anchor="end" font-weight="normal" font-family='"Liberation Sans", sans-serif' textLength="20.700000000000003" lengthAdjust="spacingAndGlyphs" >300</text><text x="123.7" y="793" font-size="13.3" fill="#222" text-anchor="middle" font-weight="normal" font-family='"Liberation Sans", sans-serif' textLength="13.2" lengthAdjust="spacingAndGlyphs" >10</text><text x="171.65" y="793" font-size="13.3" fill="#222" text-anchor="middle" font-weight="normal" font-family='"Liberation Sans", sans-serif' textLength="13.2" lengthAdjust="spacingAndGlyphs" >30</text><text x="219.60000000000002" y="793" font-size="13.3" fill="#222" text-anchor="middle" font-weight="normal" font-family='"Liberation Sans", sans-serif' textLength="13.2" lengthAdjust="spacingAndGlyphs" >50</text><text x="267.55" y="793" font-size="13.3" fill="#222" text-anchor="middle" font-weight="normal" font-family='"Liberation Sans", sans-serif' textLength="13.2" lengthAdjust="spacingAndGlyphs" >70</text><text x="315.5" y="793" font-size="13.3" fill="#222" text-anchor="middle" font-weight="normal" font-family='"Liberation Sans", sans-serif' textLength="13.2" lengthAdjust="spacingAndGlyphs" >90</text><path d="M102.7,779.50 h3.5 M102.7,749.00 h3.5 M102.7,718.50 h3.5 M102.7,688.00 h3.5 M102.7,657.50 h3.5 M102.7,627.00 h3.5 M102.7,596.50 h3.5 M102.7,764.25 h2.2 M102.7,733.75 h2.2 M102.7,703.25 h2.2 M102.7,672.75 h2.2 M102.7,642.25 h2.2 M102.7,611.75 h2.2 M123.70,779.5 v-3.5 M171.65,779.5 v-3.5 M219.60,779.5 v-3.5 M267.55,779.5 v-3.5 M315.50,779.5 v-3.5 M147.68,779.5 v-2.2 M195.62,779.5 v-2.2 M243.57,779.5 v-2.2 M291.52,779.5 v-2.2" stroke="#111" stroke-width="1"/><text x="215.7" y="811.8" font-size="13" fill="#222" text-anchor="middle" font-weight="normal" font-family='"Liberation Sans", sans-serif' textLength="75.3" lengthAdjust="spacingAndGlyphs" >Current (mA)</text><text x="0" y="0" font-size="13" fill="#222" text-anchor="middle" font-family='"Liberation Sans", sans-serif' textLength="134" lengthAdjust="spacingAndGlyphs" transform="translate(66.6,685) rotate(-90)">-3 dB bandwidth (MHz)</text></g>
<g><defs><linearGradient id="gpink" x1="0" y1="0" x2="0" y2="1"><stop offset="0" stop-color="#fdd9da"/><stop offset="0.7" stop-color="#fcd8d8"/><stop offset="1" stop-color="#fde8e8"/></linearGradient><linearGradient id="gblue" x1="0" y1="0" x2="0" y2="1"><stop offset="0" stop-color="#e2f3fc"/><stop offset="0.7" stop-color="#dcf0fb"/><stop offset="1" stop-color="#eaf6fd"/></linearGradient><linearGradient id="garrR" x1="0" y1="0" x2="1" y2="0"><stop offset="0" stop-color="#e0151b"/><stop offset="1" stop-color="#f8b7b8"/></linearGradient><linearGradient id="garrB" x1="0" y1="0" x2="1" y2="0"><stop offset="0" stop-color="#1aa6e6"/><stop offset="1" stop-color="#2f5f99"/></linearGradient><linearGradient id="garrP" x1="0" y1="0" x2="1" y2="0"><stop offset="0" stop-color="#c3a3e6"/><stop offset="0.5" stop-color="#a47fd6"/><stop offset="1" stop-color="#c3a3e6"/></linearGradient></defs><rect x="433.6" y="595.6" width="117.89999999999998" height="182.39999999999998" fill="url(#gpink)"/><rect x="551.5" y="595.6" width="109.79999999999995" height="182.39999999999998" fill="url(#gblue)"/><line x1="551.5" y1="595.6" x2="551.5" y2="778" stroke="#222" stroke-width="1.1"/><line x1="438.6" y1="602.9" x2="646.5" y2="746.7" stroke="#a8403f" stroke-width="1.1" stroke-dasharray="3.5,3"/><polygon points="447.3,754 459.3,747.8 459.3,751 549.5,751 549.5,757 459.3,757 459.3,760.2" fill="url(#garrR)"/><polygon points="553.7,751 645.6,751 645.6,747.8 657.7,754 645.6,760.2 645.6,757 553.7,757" fill="url(#garrB)"/><text x="461" y="769.8" font-size="14.5" fill="#222" text-anchor="start" font-weight="normal" font-family='"Liberation Sans", sans-serif' textLength="57.4" lengthAdjust="spacingAndGlyphs" >Micro size</text><text x="564.6" y="769.3" font-size="14.5" fill="#222" text-anchor="start" font-weight="normal" font-family='"Liberation Sans", sans-serif' textLength="71.5" lengthAdjust="spacingAndGlyphs" >Regular size</text><polygon points="608.5,690.9 608.5,660 604.8,660 612.3,646 619.8,660 616.1,660 616.1,690.9" fill="url(#garrP)"/><circle cx="452.3" cy="631.6" r="4.6" fill="#3a689e"/><polygon points="461.70,639.80 452.60,634.60 452.60,645.00" fill="#f6b91f" /><circle cx="514.6" cy="636.1" r="4.6" fill="#ef6c73"/><polygon points="514.60,645.00 519.80,635.90 509.40,635.90" fill="#8e8282" /><polygon points="543.80,623.60 549.30,633.23 538.30,633.23" fill="#ef6c73" /><circle cx="540.1" cy="659.8" r="4.8" fill="#0a1a80"/><polygon points="530.30,676.00 539.92,670.50 539.92,681.50" fill="#d0731a" /><polygon points="579.90,680.30 589.52,674.80 589.52,685.80" fill="#3fbf6a" /><circle cx="594.2" cy="687.1" r="4.6" fill="url(#sphB)"/><rect x="635.35" y="687.45" width="8.5" height="8.5" fill="#0a1a80"/><rect x="643.25" y="766.15" width="8.5" height="8.5" fill="#3fbf6a"/><circle cx="593.7" cy="655.6" r="7.8" fill="#fff" fill-opacity="0.6" stroke="#6d2b8f" stroke-width="1.1"/><circle cx="593.7" cy="655.6" r="5" fill="url(#sphR)"/><rect x="433.6" y="595.6" width="227.69999999999993" height="182.39999999999998" fill="none" stroke="#111" stroke-width="1.5"/><path d="M433.6,777.64 h3.5 M433.6,706.90 h3.5 M433.6,600.79 h3.5 M433.6,768.34 h2.2 M433.6,753.66 h2.2 M433.6,742.27 h2.2 M433.6,732.97 h2.2 M433.6,725.10 h2.2 M433.6,718.29 h2.2 M433.6,712.28 h2.2 M433.6,671.53 h2.2 M433.6,650.84 h2.2 M433.6,636.16 h2.2 M433.6,624.77 h2.2 M433.6,615.47 h2.2 M433.6,607.60 h2.2 M471.40,778 v-3.5 M547.90,778 v-3.5 M624.40,778 v-3.5 M440.96,778 v-2.2 M448.37,778 v-2.2 M454.43,778 v-2.2 M459.55,778 v-2.2 M463.99,778 v-2.2 M467.90,778 v-2.2 M494.43,778 v-2.2 M507.90,778 v-2.2 M517.46,778 v-2.2 M524.87,778 v-2.2 M530.93,778 v-2.2 M536.05,778 v-2.2 M540.49,778 v-2.2 M544.40,778 v-2.2 M570.93,778 v-2.2 M584.40,778 v-2.2 M593.96,778 v-2.2 M601.37,778 v-2.2 M607.43,778 v-2.2 M612.55,778 v-2.2 M616.99,778 v-2.2 M620.90,778 v-2.2 M647.43,778 v-2.2 M660.90,778 v-2.2" stroke="#111" stroke-width="1"/><text x="429.4" y="605.2869265284467" font-size="13" fill="#222" text-anchor="end" font-weight="normal" font-family='"Liberation Sans", sans-serif' textLength="20.7" lengthAdjust="spacingAndGlyphs" >800</text><text x="429.4" y="711.4" font-size="13" fill="#222" text-anchor="end" font-weight="normal" font-family='"Liberation Sans", sans-serif' textLength="20.7" lengthAdjust="spacingAndGlyphs" >100</text><text x="429.4" y="782.1420489810356" font-size="13" fill="#222" text-anchor="end" font-weight="normal" font-family='"Liberation Sans", sans-serif' textLength="13.8" lengthAdjust="spacingAndGlyphs" >25</text><text x="462.5" y="793.2" font-size="12.5" fill="#222" font-family='"Liberation Sans", sans-serif'>10<tspan font-size="8.5" dy="-5">3</tspan></text><text x="539" y="793.2" font-size="12.5" fill="#222" font-family='"Liberation Sans", sans-serif'>10<tspan font-size="8.5" dy="-5">4</tspan></text><text x="615.8" y="793.2" font-size="12.5" fill="#222" font-family='"Liberation Sans", sans-serif'>10<tspan font-size="8.5" dy="-5">5</tspan></text><text x="494.8" y="814.8" font-size="13" fill="#222" font-family='"Liberation Sans", sans-serif'>Mesa area (μm<tspan font-size="9" dy="-5">2</tspan><tspan dy="5">)</tspan></text><text x="0" y="0" font-size="13" fill="#222" text-anchor="middle" font-family='"Liberation Sans", sans-serif' textLength="130" lengthAdjust="spacingAndGlyphs" transform="translate(395.3,686.4) rotate(-90)">-3 dB bandwidth (MHz)</text><circle cx="669.1" cy="600.7" r="4.8" fill="#3a689e"/><text x="677.4" y="603.7" font-size="7.5" fill="#222" text-anchor="start" font-weight="normal" font-family='"Liberation Sans", sans-serif' textLength="13" lengthAdjust="spacingAndGlyphs" >[32]</text><circle cx="669.1" cy="612" r="4.8" fill="#ef6c73"/><text x="677.4" y="615" font-size="7.5" fill="#222" text-anchor="start" font-weight="normal" font-family='"Liberation Sans", sans-serif' textLength="13" lengthAdjust="spacingAndGlyphs" >[33]</text><polygon points="669.10,617.90 674.60,627.52 663.60,627.52" fill="#ef6c73" /><text x="677.4" y="626.4" font-size="7.5" fill="#222" text-anchor="start" font-weight="normal" font-family='"Liberation Sans", sans-serif' textLength="13" lengthAdjust="spacingAndGlyphs" >[34]</text><rect x="664.85" y="629.95" width="8.5" height="8.5" fill="#3fbf6a"/><text x="677.4" y="637.2" font-size="7.5" fill="#222" text-anchor="start" font-weight="normal" font-family='"Liberation Sans", sans-serif' textLength="13" lengthAdjust="spacingAndGlyphs" >[35]</text><polygon points="663.60,646.00 673.23,640.50 673.23,651.50" fill="#3fbf6a" /><text x="677.4" y="649" font-size="7.5" fill="#222" text-anchor="start" font-weight="normal" font-family='"Liberation Sans", sans-serif' textLength="13" lengthAdjust="spacingAndGlyphs" >[36]</text><polygon points="663.60,656.90 673.23,651.40 673.23,662.40" fill="#d0731a" /><text x="677.4" y="659.9" font-size="7.5" fill="#222" text-anchor="start" font-weight="normal" font-family='"Liberation Sans", sans-serif' textLength="13" lengthAdjust="spacingAndGlyphs" >[37]</text><polygon points="674.60,668.20 664.98,662.70 664.98,673.70" fill="#f6b91f" /><text x="677.4" y="671.2" font-size="7.5" fill="#222" text-anchor="start" font-weight="normal" font-family='"Liberation Sans", sans-serif' textLength="13" lengthAdjust="spacingAndGlyphs" >[38]</text><polygon points="669.10,685.10 674.60,675.48 663.60,675.48" fill="#8e8282" /><text x="677.4" y="682.6" font-size="7.5" fill="#222" text-anchor="start" font-weight="normal" font-family='"Liberation Sans", sans-serif' textLength="13" lengthAdjust="spacingAndGlyphs" >[39]</text><rect x="664.85" y="685.95" width="8.5" height="8.5" fill="#0a1a80"/><text x="677.4" y="693.2" font-size="7.5" fill="#222" text-anchor="start" font-weight="normal" font-family='"Liberation Sans", sans-serif' textLength="13" lengthAdjust="spacingAndGlyphs" >[40]</text><circle cx="669.1" cy="701.1" r="4.8" fill="#0a1a80"/><text x="677.4" y="704.1" font-size="7.5" fill="#222" text-anchor="start" font-weight="normal" font-family='"Liberation Sans", sans-serif' textLength="13" lengthAdjust="spacingAndGlyphs" >[41]</text><circle cx="668.4" cy="713" r="4.8" fill="url(#sphB)"/><text x="675.2" y="714.6" font-size="7.5" fill="#222" text-anchor="start" font-weight="normal" font-family='"Liberation Sans", sans-serif' textLength="36" lengthAdjust="spacingAndGlyphs" >Our device</text><text x="676.9" y="722.2" font-size="7.5" fill="#222" text-anchor="start" font-weight="normal" font-family='"Liberation Sans", sans-serif' textLength="44" lengthAdjust="spacingAndGlyphs" >with Bias tee</text><circle cx="668.4" cy="734.9" r="5.3" fill="url(#sphR)"/><rect x="673.8" y="729.5" width="42.8" height="18.9" fill="none" stroke="#7a3ab8" stroke-width="1"/><text x="675.5" y="736.8" font-size="7.5" fill="#222" text-anchor="start" font-weight="normal" font-family='"Liberation Sans", sans-serif' textLength="36" lengthAdjust="spacingAndGlyphs" >Our device</text><text x="677.5" y="745" font-size="7.5" fill="#222" text-anchor="start" font-weight="normal" font-family='"Liberation Sans", sans-serif' textLength="24" lengthAdjust="spacingAndGlyphs" >with Tt</text></g>
</svg></body></html>
